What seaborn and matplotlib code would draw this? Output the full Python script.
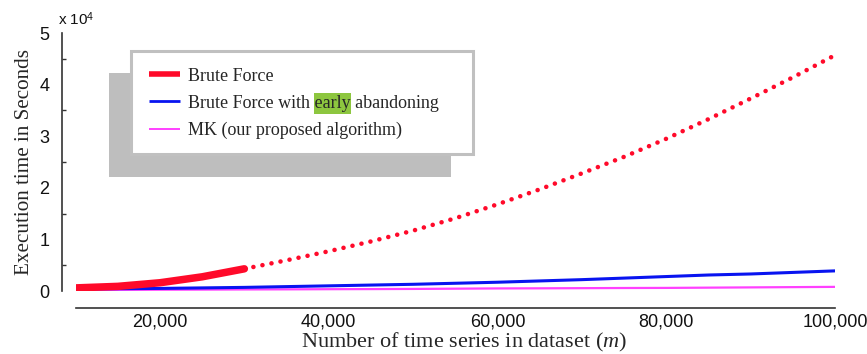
import numpy as np
import pandas as pd
import matplotlib
matplotlib.use("Agg")
import matplotlib.pyplot as plt
import seaborn as sns
from matplotlib.lines import Line2D
from matplotlib.patches import Rectangle
from matplotlib.ticker import FuncFormatter, MultipleLocator

# ---- data (execution time in seconds) ----
m_values = [10000, 15000, 20000, 25000, 30000, 35000, 40000, 45000, 50000, 55000,
            60000, 65000, 70000, 75000, 80000, 85000, 90000, 95000, 100000]
brute_force = [600, 900, 1600, 2750, 4300, 5950, 7700, 9600, 11700, 14100,
               16800, 19700, 22800, 26000, 29500, 33300, 37300, 41400, 45700]
brute_force_ea = [400, 450, 500, 600, 700, 850, 1000, 1150, 1300, 1500,
                  1700, 1950, 2200, 2500, 2800, 3100, 3300, 3600, 3900]
mk = [200, 220, 250, 270, 300, 320, 350, 370, 400, 450,
      500, 520, 550, 580, 600, 650, 700, 750, 800]
solid_until = 30000  # brute force measured up to here, extrapolated after

series_labels = ["Brute Force", "Brute Force with early abandoning",
                 "MK (our proposed algorithm)"]
x_ticks = [20000, 40000, 60000, 80000, 100000]
y_ticks = [0, 10000, 20000, 30000, 40000, 50000]

RED = "#ff0a2a"
BLUE = "#0814f0"
MAGENTA = "#ff40ff"
GREEN = "#8dc63f"

sns.set_style("white")
plt.rcParams["font.family"] = ["Liberation Sans", "DejaVu Sans"]
plt.rcParams["mathtext.fontset"] = "custom"
plt.rcParams["mathtext.it"] = "Liberation Serif:italic"
plt.rcParams["mathtext.rm"] = "Liberation Serif"
plt.rcParams["mathtext.default"] = "it"

df = pd.DataFrame({"m": m_values, "bf": brute_force, "ea": brute_force_ea, "mk": mk})
df_solid = df[df["m"] <= solid_until]
df_dot = df[df["m"] >= solid_until]

fig = plt.figure(figsize=(8.67, 3.54), dpi=100)
ax = fig.add_axes([75.6 / 867, 1 - 291 / 354, (835 - 75.6) / 867, (291 - 33) / 354])

sns.lineplot(data=df, x="m", y="mk", ax=ax, color=MAGENTA, lw=1.6, legend=False)
sns.lineplot(data=df, x="m", y="ea", ax=ax, color=BLUE, lw=2.2, legend=False)
sns.lineplot(data=df_dot, x="m", y="bf", ax=ax, color=RED, lw=3.3,
             linestyle=(0, (0.01, 2.0)), dash_capstyle="round", legend=False)
sns.lineplot(data=df_solid, x="m", y="bf", ax=ax, color=RED, lw=5.4,
             solid_capstyle="round", solid_joinstyle="round", legend=False)

ax.set_xlim(10000, 100000)
ax.set_ylim(0, 50000)
ax.set_xticks(x_ticks)
ax.xaxis.set_major_formatter(FuncFormatter(lambda v, p: f"{int(v):,}"))
ax.set_yticks(y_ticks)
ax.yaxis.set_minor_locator(MultipleLocator(5000))
ax.yaxis.set_major_formatter(FuncFormatter(lambda v, p: f"{int(round(v / 10000))}"))

for s in ["top", "right"]:
    ax.spines[s].set_visible(False)
ax.spines["left"].set_position(("outward", 9.8))
ax.spines["bottom"].set_position(("outward", 12.2))
for s in ["left", "bottom"]:
    ax.spines[s].set_color("#333333")
    ax.spines[s].set_linewidth(1.2)

ax.tick_params(axis="both", which="major", direction="in", length=5, width=1.0,
               color="#333333", labelsize=13, labelcolor="#111111")
ax.tick_params(axis="y", which="major", pad=9)
ax.tick_params(axis="x", which="major", pad=4)
ax.tick_params(axis="y", which="minor", direction="in", length=3, width=1.0,
               color="#333333", left=True)

serif = ["Liberation Serif", "DejaVu Serif"]
ax.set_xlabel("Number of time series in dataset ($m$)", fontsize=16,
              family=serif, labelpad=0)
ax.xaxis.label.set_x(0.512)
ax.set_ylabel("Execution time in Seconds", fontsize=15.2, family=serif, labelpad=4)

fig.text(58 / 867, 1 - 25 / 354, r"x 10$^{\mathregular{4}}$", fontsize=11,
         family=["Liberation Sans"], color="#111111", va="baseline")

# legend shadow and frame (figure coordinates)
shadow = Rectangle((109 / 867, 1 - 177 / 354), 342 / 867, 104 / 354,
                   transform=fig.transFigure, facecolor="#bebebe", edgecolor="none",
                   zorder=4)
frame = Rectangle((131 / 867, 1 - 154 / 354), 342 / 867, 103 / 354,
                  transform=fig.transFigure, facecolor="white", edgecolor="#c0c0c0",
                  linewidth=2.2, zorder=4.5)
ax.add_patch(shadow)
ax.add_patch(frame)

handles = [Line2D([], [], color=RED, lw=4.0, solid_capstyle="butt"),
           Line2D([], [], color=BLUE, lw=2.0, solid_capstyle="butt"),
           Line2D([], [], color=MAGENTA, lw=1.4, solid_capstyle="butt")]
leg = ax.legend(handles, series_labels, loc="upper left",
                bbox_to_anchor=(145 / 867, 1 - 64 / 354), bbox_transform=fig.transFigure,
                frameon=False, prop={"family": serif, "size": 13},
                handlelength=1.72, handletextpad=0.45, labelspacing=0.56,
                borderpad=0.2, borderaxespad=0)
leg.set_zorder(6)

# highlight the word "early" (a green box drawn behind the legend text)
fig.canvas.draw()
renderer = fig.canvas.get_renderer()
t = leg.get_texts()[1]
tb = t.get_window_extent(renderer)
tmp1 = fig.text(0, 0, "Brute Force with ", family=serif, fontsize=13)
tmp2 = fig.text(0, 0, "Brute Force with early", family=serif, fontsize=13)
w1 = tmp1.get_window_extent(renderer).width
w2 = tmp2.get_window_extent(renderer).width
tmp1.remove()
tmp2.remove()
cy = (tb.y0 + tb.y1) / 2
hl = Rectangle((tb.x0 + w1 - 0.5, cy - 10.5), (w2 - w1) + 1.0, 21,
               transform=None, facecolor=GREEN, edgecolor="none", zorder=5.5)
ax.add_patch(hl)

fig.savefig("out.png", dpi=100)
